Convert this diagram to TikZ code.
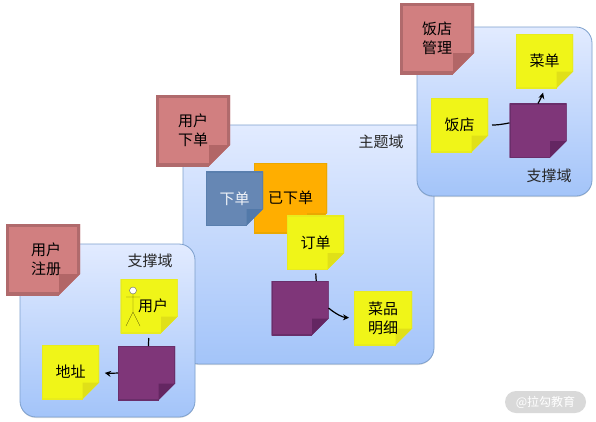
\documentclass[tikz,border=0pt]{standalone}
\usepackage{fontspec}
\setmainfont{Noto Sans CJK SC}
\usepackage{xcolor}
\definecolor{domtop}{RGB}{226,235,255}
\definecolor{dombot}{RGB}{163,196,249}
\definecolor{domline}{RGB}{125,160,205}
\definecolor{redfill}{RGB}{209,127,128}
\definecolor{redline}{RGB}{176,106,108}
\definecolor{redfold}{RGB}{178,102,103}
\definecolor{yelfill}{RGB}{240,245,24}
\definecolor{yelline}{RGB}{232,236,30}
\definecolor{yelfold}{RGB}{224,224,24}
\definecolor{purfill}{RGB}{127,54,121}
\definecolor{purline}{RGB}{106,46,106}
\definecolor{purfold}{RGB}{100,38,98}
\definecolor{orafill}{RGB}{255,174,0}
\definecolor{oraline}{RGB}{235,168,0}
\definecolor{blufill}{RGB}{102,135,180}
\definecolor{bluline}{RGB}{90,127,174}
\definecolor{blufold}{RGB}{82,121,169}
\definecolor{pillgray}{RGB}{217,217,217}
\usetikzlibrary{arrows.meta,calc,shadows}
\newcommand{\notebody}[5]{%
  \coordinate (nw) at (path picture bounding box.north west);
  \coordinate (ne) at (path picture bounding box.north east);
  \coordinate (sw) at (path picture bounding box.south west);
  \coordinate (se) at (path picture bounding box.south east);
  \fill[#1] (nw) -- (ne) -- ($(se)+(0,#4)$) -- ($(se)+(-#4,0)$) -- (sw) -- cycle;
  \draw[#2,line width=#5] ($(se)+(-#4,0)$) -- (sw) -- (nw) -- (ne) -- ($(se)+(0,#4)$);
  \fill[#3] ($(se)+(-#4,0)$) -- ($(se)+(0,#4)$) -- ($(se)+(-#4,#4)$) -- cycle;}
\begin{document}
\begin{tikzpicture}[x=1pt,y=-1pt]
  \tikzstyle{domainbox}=[rectangle,draw=domline,thick,rounded corners=16pt,top color=domtop,bottom color=dombot,outer sep=0pt,drop shadow={shadow xshift=0pt,shadow yshift=-1pt,opacity=0.25}]
  \tikzstyle{stickynote}=[rectangle,inner sep=0pt,outer sep=0pt,minimum width=57pt,minimum height=54pt,align=center,font=\fontsize{15}{19}\selectfont]
  \tikzstyle{yelnote}=[stickynote,path picture={\notebody{yelfill}{yelline}{yelfold}{16.5pt}{2pt}}]
  \tikzstyle{purnote}=[stickynote,path picture={\notebody{purfill}{purline}{purfold}{16.5pt}{2pt}}]
  \tikzstyle{rednote}=[stickynote,minimum width=74pt,minimum height=71pt,path picture={\notebody{redfill}{redline}{redfold}{21pt}{6pt}}]
  \tikzstyle{dlabel}=[font=\fontsize{15}{18}\selectfont,text=black!85]
  \tikzstyle{linkline}=[draw=black,line width=1.2pt]
  \tikzstyle{linkto}=[linkline,-{Stealth[length=6pt,width=6pt]}]
  \useasboundingbox (0,0) rectangle (596,421);
  \fill[white] (0,0) rectangle (596,421);
  % domains
  \node[domainbox,minimum width=251pt,minimum height=239pt] (core) at (308.5,244.5) {};
  \node[domainbox,minimum width=175pt,minimum height=173pt] (supleft) at (107.5,330.5) {};
  \node[domainbox,minimum width=175pt,minimum height=169pt] (supright) at (504.5,111.5) {};
  \node[dlabel] (supleftlabel) at (150,261) {支撑域};
  \node[dlabel] (corelabel) at (381,142) {主题域};
  \node[dlabel] (suprightlabel) at (549,176) {支撑域};
  % titles
  \node[rednote] (regtitle) at (43,259.5) {\hspace*{6pt}用户\\\hspace*{6pt}注册};
  \node[rednote] (ordertitle) at (193,130.5) {用户\\下单};
  \node[rednote] (shoptitle) at (437,38.5) {饭店\\管理};
  % left
  \node[yelnote] (user) at (149,306) {\hspace*{8pt}用户};
  \node[purnote] (useragg) at (146.5,373) {};
  \node[yelnote] (addr) at (70.5,372) {地址};
  \draw[draw=black!55!yelfold,line width=0.4pt] (133,294) -- (133,312) (126,297) -- (140,297) (126,326) -- (133,312) -- (140,326);
  \draw[draw=black!60,fill=white,line width=0.4pt] (133,290.5) circle (3.5);
  % centre
  \node[stickynote,minimum width=73pt,minimum height=70pt,path picture={\notebody{orafill}{oraline}{oraline}{20pt}{2pt}}] (placed) at (290.5,198) {已下单};
  \node[stickynote,text=white!90!blufill,path picture={\notebody{blufill}{bluline}{blufold}{16.5pt}{2pt}}] (placeorder) at (234.5,198.5) {下单};
  \node[yelnote] (order) at (315.5,242.5) {订单};
  \node[purnote] (orderagg) at (300,308) {};
  \node[yelnote,minimum width=58pt] (items) at (383,318) {菜品\\明细};
  % right
  \node[yelnote] (menu) at (544.5,61) {菜单};
  \node[yelnote] (shop) at (459.5,125) {饭店};
  \node[purnote] (shopagg) at (538,130.5) {};
  % links
  \draw[linkline,shorten >=5pt] (useragg.86) -- (user.south);
  \draw[linkto,shorten >=6pt] (useragg.west) to[bend left=6] (addr.east);
  \draw[linkline,shorten >=4pt] (orderagg.59) -- (order.south);
  \draw[linkto,shorten >=5pt] (orderagg.east) to[bend right=18] (items.west);
  \draw[linkline,shorten >=4pt] (shopagg.165) to[bend left=6] (shop.east);
  \draw[linkto,shorten >=5pt] (shopagg.north) to[bend right=6] (menu.south);
  % watermark
  \node[rectangle,rounded corners=11pt,fill=pillgray,text=white,minimum width=81pt,minimum height=22pt,inner sep=0pt,font=\fontsize{12}{14}\selectfont] (mark) at (545.5,402) {@拉勾教育};
\end{tikzpicture}
\end{document}
